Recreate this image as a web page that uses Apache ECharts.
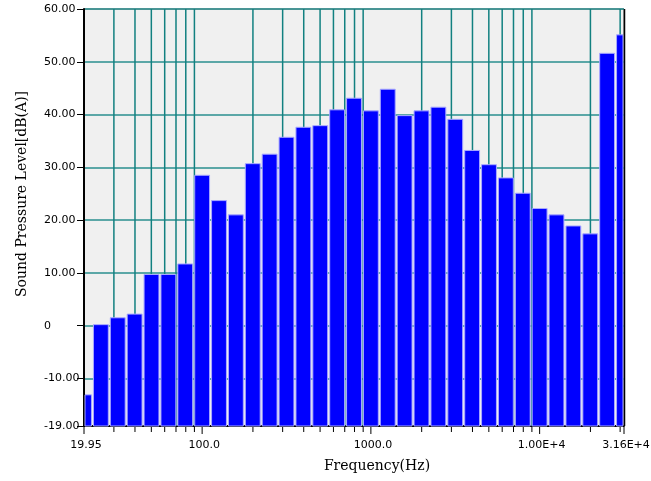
<!DOCTYPE html>
<html><head><meta charset="utf-8">
<script src="https://cdn.jsdelivr.net/npm/echarts@6/dist/echarts.min.js"></script>
<style>html,body{margin:0;padding:0;background:#fff}#c{width:651px;height:481px}</style>
</head><body><div id="c"></div>
<script>
// 1/3-octave band nominal centre frequencies (Hz)
const bandFreqs = [20,25,31.5,40,50,63,80,100,125,160,200,250,315,400,500,630,800,1000,1250,1600,2000,2500,3150,4000,5000,6300,8000,10000,12500,16000,20000,25000,31500];
// Sound pressure level dB(A)
const levels = [-13.1,0.2,1.5,2.2,9.7,9.7,11.7,28.5,23.7,21.0,30.7,32.5,35.7,37.6,37.9,40.9,43.1,40.7,44.8,39.8,40.7,41.4,39.1,33.2,30.5,28.0,25.1,22.2,21.0,18.9,17.4,51.6,55.1];
// vertical grid line frequencies
const gridFreqs = [30,40,50,60,70,80,90,200,300,400,500,600,700,800,900,2000,3000,4000,5000,6000,7000,8000,9000,20000,30000];
const majorTickFreqs = [19.95,100,1000,10000,31623];
const xMin = 19.95, xMax = 31623, yMin = -19, yMax = 60;
const yTicks = [-19,-10,0,10,20,30,40,50,60];

const chart = echarts.init(document.getElementById('c'), null, {renderer:'canvas'});
const labelFont = 'DejaVu Sans';
const titleFont = '14px "DejaVu Serif"';

function fmtX(v){
  if (v < 50) return v.toFixed(2);
  if (v < 5000) return v.toFixed(1);
  return v.toExponential(2).toUpperCase();
}
function fmtY(v){ return v === 0 ? '0' : v.toFixed(2); }

chart.setOption({
  animation:false,
  backgroundColor:'#ffffff',
  grid:{left:84,right:27,top:9,bottom:55,show:true,backgroundColor:'#f0f0f0',borderColor:'#555',borderWidth:1},
  xAxis:{type:'log',logBase:10,min:xMin,max:xMax,
    axisLine:{show:true,onZero:false,lineStyle:{color:'#000',width:2}},
    axisTick:{show:false},
    splitLine:{show:false},
    axisLabel:{show:false}
  },
  yAxis:{type:'value',min:yMin,max:yMax,splitNumber:8,
    axisLine:{show:true,lineStyle:{color:'#000',width:2}},
    axisTick:{show:true,length:7,lineStyle:{color:'#000'}},
    splitLine:{show:true,lineStyle:{color:'#2a8f8f',width:1.5}},
    axisLabel:{show:false}
  },
  series:[
    { // vertical grid lines
      type:'custom',z:1,silent:true,
      data:gridFreqs.map(f=>[f,0]),
      renderItem(params,api){
        const f=api.value(0);
        const a=api.coord([f,yMax]), b=api.coord([f,yMin]);
        return {type:'line',shape:{x1:a[0],y1:a[1],x2:b[0],y2:b[1]},style:{stroke:'#128080',lineWidth:1.5}};
      }
    },
    { // bars
      type:'custom',z:3,
      data:bandFreqs.map((f,i)=>[f,levels[i]]),
      renderItem(params,api){
        const f=api.value(0), v=api.value(1);
        const e=Math.round(Math.log10(f)*10)/10;
        const lo=Math.max(Math.pow(10,e-0.05),xMin), hi=Math.min(Math.pow(10,e+0.05),xMax);
        const p0=api.coord([lo,v]), p1=api.coord([hi,yMin]);
        const x0=p0[0]+1, x1=p1[0]-1;
        return {type:'rect',shape:{x:x0,y:p0[1],width:x1-x0,height:p1[1]-p0[1]},
          style:{fill:'#0000ff',stroke:'#a8a8ff',lineWidth:1}};
      }
    },
    { // x ticks (minor)
      type:'custom',z:4,silent:true,clip:false,
      data:gridFreqs.map(f=>[f,0]),
      renderItem(params,api){
        const b=api.coord([api.value(0),yMin]);
        return {type:'line',shape:{x1:b[0],y1:b[1]+1,x2:b[0],y2:b[1]+6},style:{stroke:'#000',lineWidth:1}};
      }
    },
    { // x ticks (major) with labels
      type:'custom',z:4,silent:true,clip:false,
      data:majorTickFreqs.map(f=>[f,0]),
      renderItem(params,api){
        const f=api.value(0);
        const b=api.coord([f,yMin]);
        return {type:'group',children:[
          {type:'line',shape:{x1:b[0],y1:b[1]+1,x2:b[0],y2:b[1]+8},style:{stroke:'#000',lineWidth:1}},
          {type:'text',x:b[0]+2,y:b[1]+14,style:{text:fmtX(f),font:'11px "'+labelFont+'"',fill:'#000',align:'center',verticalAlign:'top'}}
        ]};
      }
    },
    { // y labels
      type:'custom',z:4,silent:true,clip:false,
      data:yTicks.map(v=>[xMin,v]),
      renderItem(params,api){
        const v=api.value(1);
        const b=api.coord([xMin,v]);
        return {type:'text',x:44,y:b[1],style:{text:fmtY(v),font:'11px "'+labelFont+'"',fill:'#000',align:'left',verticalAlign:'middle'}};
      }
    },
    { // right frame line
      type:'custom',z:5,silent:true,clip:false,
      data:[[xMax,0]],
      renderItem(params,api){
        const a=api.coord([xMax,yMax]), b=api.coord([xMax,yMin]);
        return {type:'line',shape:{x1:a[0]+0.5,y1:a[1],x2:b[0]+0.5,y2:b[1]},style:{stroke:'#000',lineWidth:1.5}};
      }
    }
  ],
  graphic:[
    {type:'text',x:22,y:194,rotation:Math.PI/2,style:{text:'Sound Pressure Level[dB(A)]',font:titleFont,fill:'#000',align:'center',verticalAlign:'middle'}},
    {type:'text',x:377,y:466,style:{text:'Frequency(Hz)',font:titleFont,fill:'#000',align:'center',verticalAlign:'middle'}}
  ]
});
</script></body></html>
